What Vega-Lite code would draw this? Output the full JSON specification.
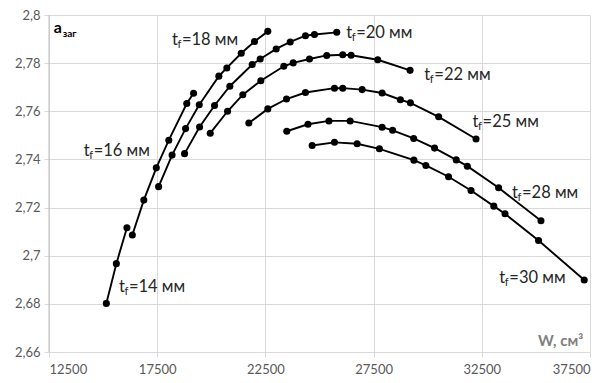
{
  "$schema": "https://vega.github.io/schema/vega-lite/v6.json",
  "width": 541,
  "height": 337,
  "autosize": {"type": "none"},
  "padding": {"left": 49, "top": 15, "right": 19, "bottom": 31},
  "background": "white",
  "config": {
    "view": {"stroke": null},
    "font": "Lato",
    "axis": {"gridColor": "#d9d9d9", "gridWidth": 1, "domain": false, "tickColor": "#d9d9d9", "tickSize": 5, "labelColor": "#595959", "labelFont": "Lato", "labelFontSize": 13, "title": null}
  },
  "datasets": {
    "curves": [
      {"tf": 14, "W": 15150, "a": 2.6802},
      {"tf": 14, "W": 15612, "a": 2.6967},
      {"tf": 14, "W": 16101, "a": 2.7116},
      {"tf": 16, "W": 16351, "a": 2.7086},
      {"tf": 16, "W": 16882, "a": 2.7231},
      {"tf": 16, "W": 17459, "a": 2.7365},
      {"tf": 16, "W": 18036, "a": 2.748},
      {"tf": 16, "W": 18867, "a": 2.7632},
      {"tf": 16, "W": 19181, "a": 2.7675},
      {"tf": 18, "W": 17565, "a": 2.7287},
      {"tf": 18, "W": 18188, "a": 2.7418},
      {"tf": 18, "W": 18812, "a": 2.7528},
      {"tf": 18, "W": 19444, "a": 2.7627},
      {"tf": 18, "W": 20349, "a": 2.7746},
      {"tf": 18, "W": 20718, "a": 2.778},
      {"tf": 18, "W": 21383, "a": 2.7841},
      {"tf": 18, "W": 21997, "a": 2.789},
      {"tf": 18, "W": 22611, "a": 2.7932},
      {"tf": 20, "W": 18765, "a": 2.7424},
      {"tf": 20, "W": 19458, "a": 2.7535},
      {"tf": 20, "W": 20150, "a": 2.7624},
      {"tf": 20, "W": 20857, "a": 2.7704},
      {"tf": 20, "W": 21891, "a": 2.7794},
      {"tf": 20, "W": 22260, "a": 2.7817},
      {"tf": 20, "W": 22999, "a": 2.7859},
      {"tf": 20, "W": 23646, "a": 2.7888},
      {"tf": 20, "W": 24352, "a": 2.7914},
      {"tf": 20, "W": 24767, "a": 2.7919},
      {"tf": 20, "W": 25797, "a": 2.7928},
      {"tf": 22, "W": 19952, "a": 2.7509},
      {"tf": 22, "W": 20751, "a": 2.76},
      {"tf": 22, "W": 21457, "a": 2.7669},
      {"tf": 22, "W": 22288, "a": 2.7727},
      {"tf": 22, "W": 23350, "a": 2.7787},
      {"tf": 22, "W": 23784, "a": 2.7801},
      {"tf": 22, "W": 24537, "a": 2.7817},
      {"tf": 22, "W": 25335, "a": 2.7832},
      {"tf": 22, "W": 26074, "a": 2.7835},
      {"tf": 22, "W": 26462, "a": 2.7833},
      {"tf": 22, "W": 27690, "a": 2.7814},
      {"tf": 22, "W": 29186, "a": 2.777},
      {"tf": 25, "W": 21734, "a": 2.7551},
      {"tf": 25, "W": 22611, "a": 2.761},
      {"tf": 25, "W": 23475, "a": 2.7651},
      {"tf": 25, "W": 24352, "a": 2.7678},
      {"tf": 25, "W": 25691, "a": 2.7696},
      {"tf": 25, "W": 26074, "a": 2.7696},
      {"tf": 25, "W": 26970, "a": 2.769},
      {"tf": 25, "W": 27893, "a": 2.7676},
      {"tf": 25, "W": 28738, "a": 2.7648},
      {"tf": 25, "W": 29200, "a": 2.7635},
      {"tf": 25, "W": 30506, "a": 2.7577},
      {"tf": 25, "W": 32233, "a": 2.7485},
      {"tf": 28, "W": 23488, "a": 2.7517},
      {"tf": 28, "W": 24467, "a": 2.7546},
      {"tf": 28, "W": 25437, "a": 2.756},
      {"tf": 28, "W": 26416, "a": 2.756},
      {"tf": 28, "W": 27893, "a": 2.7534},
      {"tf": 28, "W": 28378, "a": 2.7521},
      {"tf": 28, "W": 29352, "a": 2.7487},
      {"tf": 28, "W": 30317, "a": 2.7447},
      {"tf": 28, "W": 31319, "a": 2.7398},
      {"tf": 28, "W": 31831, "a": 2.7372},
      {"tf": 28, "W": 33277, "a": 2.7282},
      {"tf": 28, "W": 35234, "a": 2.7145},
      {"tf": 30, "W": 24661, "a": 2.7458},
      {"tf": 30, "W": 25691, "a": 2.7471},
      {"tf": 30, "W": 26739, "a": 2.7465},
      {"tf": 30, "W": 27769, "a": 2.7444},
      {"tf": 30, "W": 29361, "a": 2.7397},
      {"tf": 30, "W": 29915, "a": 2.7375},
      {"tf": 30, "W": 30963, "a": 2.7328},
      {"tf": 30, "W": 32002, "a": 2.7271},
      {"tf": 30, "W": 33055, "a": 2.7206},
      {"tf": 30, "W": 33572, "a": 2.7174},
      {"tf": 30, "W": 35123, "a": 2.7063},
      {"tf": 30, "W": 37233, "a": 2.6899}
    ],
    "labels": [
      {"W": 15732, "a": 2.6871, "rest": "=14 мм"},
      {"W": 14102, "a": 2.7434, "rest": "=16 мм"},
      {"W": 18179, "a": 2.7898, "rest": "=18 мм"},
      {"W": 26231, "a": 2.7925, "rest": "=20 мм"},
      {"W": 29846, "a": 2.7752, "rest": "=22 мм"},
      {"W": 32076, "a": 2.7556, "rest": "=25 мм"},
      {"W": 33895, "a": 2.7261, "rest": "=28 мм"},
      {"W": 33309, "a": 2.6909, "rest": "=30 мм"}
    ]
  },
  "encoding": {
    "x": {"field": "W", "type": "quantitative",
      "scale": {"domain": [12500, 37500], "nice": false, "zero": false},
      "axis": {"values": [12500, 17500, 22500, 27500, 32500, 37500], "format": "d", "labelPadding": 6}},
    "y": {"field": "a", "type": "quantitative",
      "scale": {"domain": [2.66, 2.8], "nice": false, "zero": false},
      "axis": {"values": [2.66, 2.68, 2.7, 2.72, 2.74, 2.76, 2.78, 2.8], "labelExpr": "replace(format(datum.value, '.2~f'), '.', ',')", "labelPadding": 4}}
  },
  "layer": [
    {
      "data": {"values": [{"W": 12500}]},
      "mark": {"type": "rule", "color": "#bfbfbf", "strokeWidth": 1},
      "encoding": {"x": {"field": "W", "type": "quantitative"}, "y": null}
    },
    {
      "data": {"name": "curves"},
      "mark": {"type": "line", "color": "#000000", "strokeWidth": 1.9},
      "encoding": {"detail": {"field": "tf", "type": "nominal"}, "order": {"field": "W", "type": "quantitative"}}
    },
    {
      "data": {"name": "curves"},
      "mark": {"type": "point", "filled": true, "color": "#000000", "opacity": 1, "size": 50},
      "encoding": {"detail": {"field": "tf", "type": "nominal"}}
    },
    {
      "data": {"name": "labels"},
      "mark": {"type": "text", "align": "left", "baseline": "middle", "fontSize": 16.5, "color": "#262626"},
      "encoding": {"text": {"value": "t"}}
    },
    {
      "data": {"name": "labels"},
      "mark": {"type": "text", "align": "left", "baseline": "middle", "fontSize": 11, "dx": 5.5, "dy": 5, "color": "#262626"},
      "encoding": {"text": {"value": "f"}}
    },
    {
      "data": {"name": "labels"},
      "mark": {"type": "text", "align": "left", "baseline": "middle", "fontSize": 16.5, "dx": 10, "color": "#262626"},
      "encoding": {"text": {"field": "rest"}}
    },
    {
      "data": {"values": [{"W": 12717, "a": 2.7927}]},
      "mark": {"type": "text", "align": "left", "baseline": "alphabetic", "fontSize": 16, "fontWeight": "bold", "color": "#000000"},
      "encoding": {"text": {"value": "a"}}
    },
    {
      "data": {"values": [{"W": 12717, "a": 2.7927}]},
      "mark": {"type": "text", "align": "left", "baseline": "alphabetic", "fontSize": 10, "fontWeight": "bold", "dx": 9, "dy": 4, "color": "#000000"},
      "encoding": {"text": {"value": "заг"}}
    },
    {
      "data": {"values": [{"W": 37187, "a": 2.6623}]},
      "mark": {"type": "text", "align": "right", "baseline": "alphabetic", "fontSize": 15, "fontWeight": "bold", "color": "#808080"},
      "encoding": {"text": {"value": "W, см³"}}
    }
  ]
}
